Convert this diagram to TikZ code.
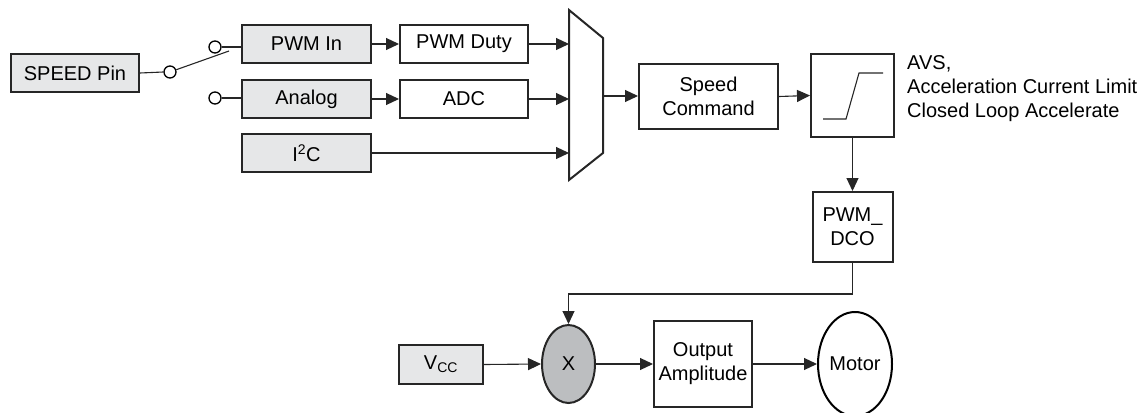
\documentclass[tikz,border=0pt]{standalone}
\usepackage{fontspec}
\setmainfont{Liberation Sans}
\usetikzlibrary{arrows.meta,shapes.geometric,calc}
\definecolor{boxgray}{HTML}{E6E7E8}
\definecolor{multgray}{HTML}{BCBEC0}
\begin{document}
\begin{tikzpicture}[x=1pt,y=-1pt,
  font=\fontsize{20}{24}\selectfont,
  blk/.style={draw=black!85,line width=2pt,rectangle,inner sep=0pt,align=center},
  inbox/.style={blk,fill=boxgray},
  conn/.style={line width=1.1pt,draw=black!85},
  arr/.style={conn,-{Triangle[length=13pt,width=12pt]}},
  swc/.style={circle,draw=black,line width=1.3pt,fill=white,minimum size=12pt,inner sep=0pt}]
\useasboundingbox (0,0) rectangle (1142,412);

% input boxes
\node[inbox,minimum width=128pt,minimum height=38pt] (speed) at (75,73) {SPEED Pin};
\node[inbox,minimum width=129pt,minimum height=38pt] (pwmin) at (306.5,44) {PWM In};
\node[inbox,minimum width=129pt,minimum height=38pt] (analog) at (306.5,99) {Analog};
\node[inbox,minimum width=129pt,minimum height=38pt] (i2c) at (306.5,153) {I\textsuperscript{2}C};

% switch
\node[swc] (sw0) at (170,72) {};
\node[swc] (sw1) at (215,47) {};
\node[swc] (sw2) at (215,98) {};
\coordinate (blade) at (229,51);
\draw[conn] (speed.east) -- (sw0.west);
\draw[conn] (sw1.east) -- (sw1.east -| pwmin.west);
\draw[conn] (sw2.east) -- (sw2.east -| analog.west);
\draw[conn] (sw0.20) -- (blade);

% processing boxes
\node[blk,minimum width=128pt,minimum height=38pt] (pwmduty) at (464,44) {PWM Duty};
\node[blk,minimum width=128pt,minimum height=38pt] (adc) at (464,99) {ADC};

% mux
\coordinate (mux1) at (569,10);
\coordinate (mux2) at (603,38);
\coordinate (mux3) at (603,153);
\coordinate (mux4) at (569,180);
\draw[line width=2pt,draw=black!85,line join=miter] (mux1) -- (mux2) -- (mux3) -- (mux4) -- cycle;
\coordinate (min1) at (569,44);
\coordinate (min2) at (569,99);
\coordinate (min3) at (569,153);
\coordinate (mout) at (603,96);

\draw[arr] (pwmin.east) -- (pwmduty.west);
\draw[arr] (analog.east) -- (adc.west);
\draw[arr] (pwmduty.east) -- (min1);
\draw[arr] (adc.east) -- (min2);
\draw[arr] (i2c.east) -- (min3);

\node[blk,minimum width=139pt,minimum height=65pt] (speedcmd) at (708.5,96.5) {Speed\\Command};
\draw[arr] (mout) -- (mout -| speedcmd.west);

% ramp
\node[blk,minimum width=83pt,minimum height=83pt] (ramp) at (852.5,95.5) {};
\draw[conn] (823,119) -- (846,119) -- (859,73) -- (883,73);
\draw[arr] (speedcmd.east) -- (ramp.west);
\node[anchor=west,align=left,inner sep=0pt] (avs) at (907,89) {AVS,\\Acceleration Current Limit\\Closed Loop Accelerate};

% PWM_DCO
\node[blk,minimum width=80pt,minimum height=70pt] (dco) at (852.5,227) {PWM\_\\DCO};
\draw[arr] (ramp.south) -- (dco.north);

% bottom row
\node[inbox,minimum width=84pt,minimum height=39pt] (vcc) at (441,364.5) {V\textsubscript{CC}};
\node[ellipse,draw=black!85,line width=2pt,fill=multgray,minimum width=53pt,minimum height=78pt,inner sep=0pt] (mult) at (568.5,364) {X};
\node[blk,minimum width=98pt,minimum height=86pt] (outamp) at (703,364) {Output\\Amplitude};
\node[ellipse,draw=black,line width=2pt,minimum width=74pt,minimum height=104pt,inner sep=0pt] (motor) at (855,364) {Motor};

\draw[arr] (dco.south) -- ++(0,31) -| (mult.north);
\draw[arr] (vcc.east) -- (mult.west);
\draw[arr] (mult.east) -- (outamp.west);
\draw[arr] (outamp.east) -- (motor.west);
\end{tikzpicture}
\end{document}
